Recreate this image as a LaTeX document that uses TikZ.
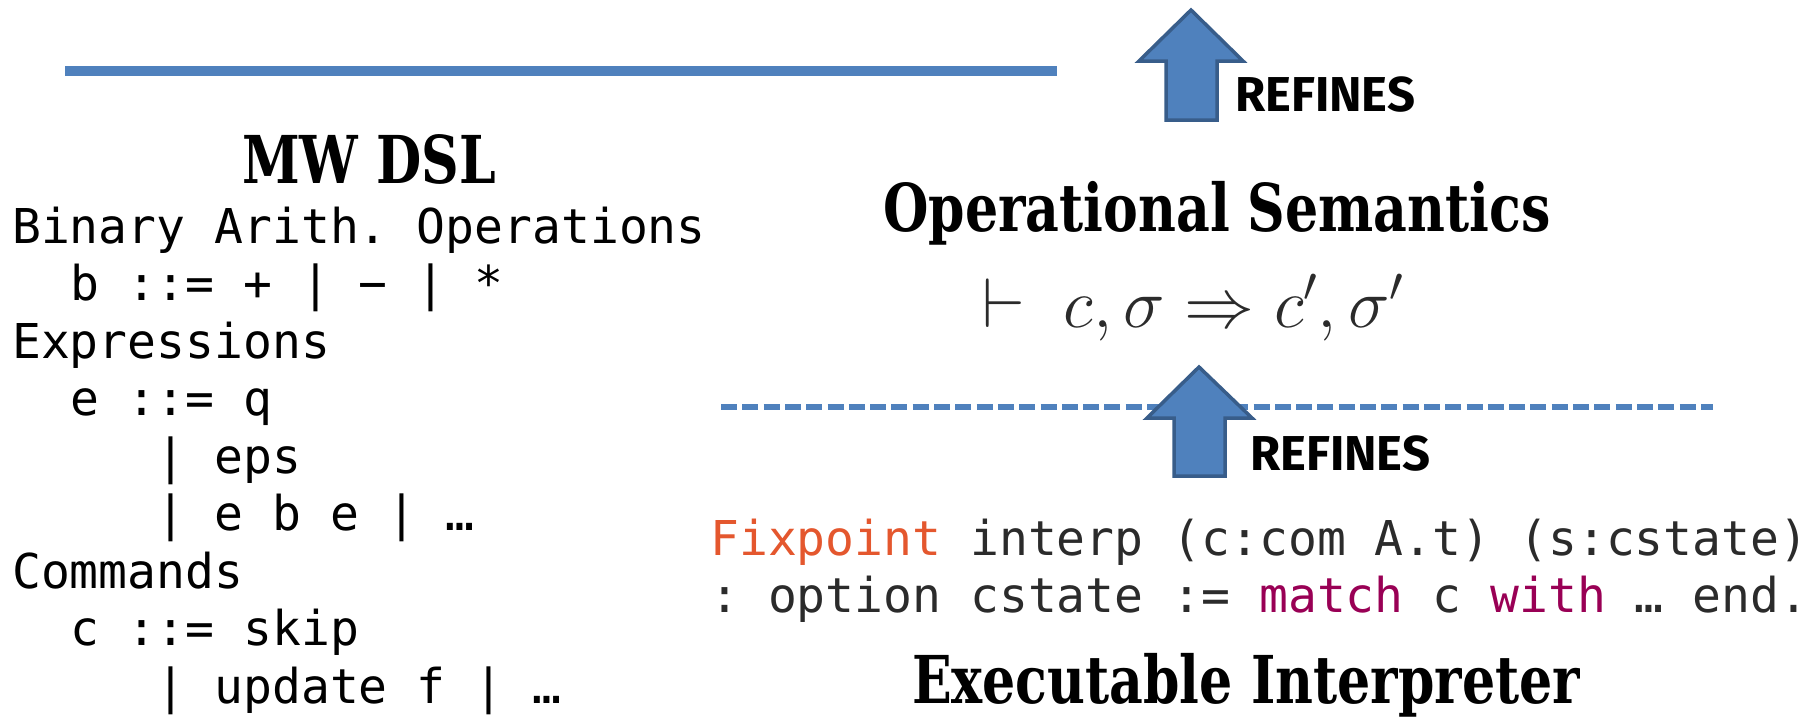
\RequirePackage{fix-cm}
\documentclass[tikz,border=0pt]{standalone}
\usepackage{fontspec}
\setmainfont{Liberation Serif}
\setmonofont{DejaVu Sans Mono}
\newfontfamily\headfont{DejaVu Serif}[FakeStretch=0.79]
\newfontfamily\refinesfont{Fira Sans}

\definecolor{lineblue}{HTML}{4F81BD}
\definecolor{arrowedge}{HTML}{385D8A}
\definecolor{kwred}{HTML}{E4572E}
\definecolor{kwpurple}{HTML}{990055}
\definecolor{codegray}{HTML}{2B2B2B}

\tikzset{
  heading/.style={font=\headfont\bfseries\fontsize{66}{74}\selectfont, anchor=base, inner sep=0pt},
  code/.style={font=\ttfamily\fontsize{48}{58}\selectfont, anchor=base west, inner sep=0pt},
  refines/.style={font=\refinesfont\bfseries\fontsize{49}{54}\selectfont, anchor=base west, inner sep=0pt},
  uparrow/.style={fill=lineblue, draw=arrowedge, line width=3.5pt, line join=miter},
}

\begin{document}
\begin{tikzpicture}[x=1pt, y=-1pt]
	\useasboundingbox (0,0) rectangle (1812,718);

	% separators
	\draw[lineblue, line width=10pt] (65,71) -- (1057,71);
	\draw[lineblue, line width=6pt, dash pattern=on 16pt off 5.3pt] (721,407) -- (1713,407);

	% refinement arrows
	\draw[uparrow] (1191,10) -- (1243,61) -- (1217,61) -- (1217,120) -- (1166,120) -- (1166,61) -- (1139,61) -- cycle;
	\draw[uparrow] (1199,367) -- (1252,418) -- (1225,418) -- (1225,476) -- (1174,476) -- (1174,418) -- (1147,418) -- cycle;
	\node[refines] (ref1) at (1235,111) {REFINES};
	\node[refines] (ref2) at (1250,470) {REFINES};

	% DSL grammar
	\node[heading] (dsl) at (369,183) {MW DSL};
	\node[code] (ops)   at (12,243)    {Binary Arith. Operations};
	\node[code] (bdef)  at (69.8,300.5) {b ::= + | − | *};
	\node[code] (exprs) at (12,358)    {Expressions};
	\node[code] (edef)  at (69.8,415.5) {e ::= q};
	\node[code] (eeps)  at (156.5,473) {| eps};
	\node[code] (ebin)  at (156.5,530.5) {| e b e | …};
	\node[code] (cmds)  at (12,588)    {Commands};
	\node[code] (cdef)  at (69.8,645.5) {c ::= skip};
	\node[code] (cupd)  at (156.5,703) {| update f | …};

	% semantics
	\node[heading] (opsem) at (1217,231) {Operational Semantics};
	\node[anchor=base, inner sep=0pt, text=codegray, font=\fontsize{70}{78}\selectfont] (step) at (1193,327)
		{$\vdash\; c, \sigma \Rightarrow c', \sigma'$};

	% interpreter
	\node[code, text=codegray] (fix) at (710,555)
		{\textcolor{kwred}{Fixpoint} interp (c:com A.t) (s:cstate)};
	\node[code, text=codegray] (fixty) at (710,612)
		{: option cstate := \textcolor{kwpurple}{match} c \textcolor{kwpurple}{with} … end.};
	\node[heading] (interp) at (1246,703) {Executable Interpreter};
\end{tikzpicture}
\end{document}
